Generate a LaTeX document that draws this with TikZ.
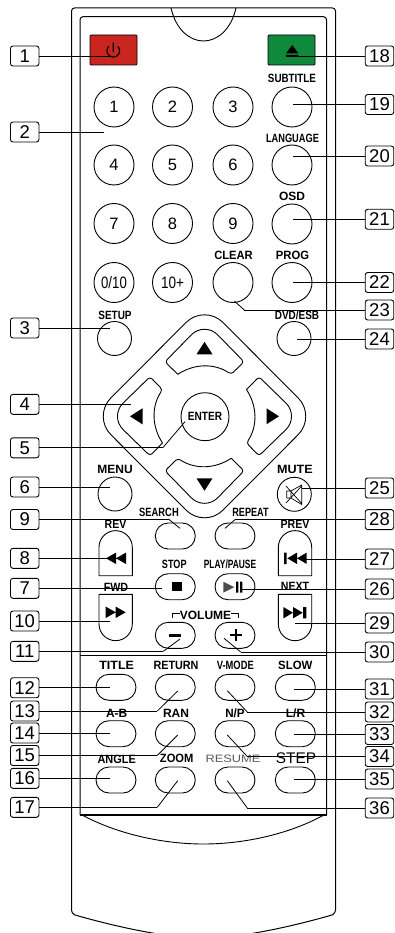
\documentclass[tikz,border=0pt]{standalone}
\usepackage{fontspec}
\setmainfont{Liberation Sans}
\usetikzlibrary{shapes}
\newcommand{\squeezed}[2]{\scalebox{#1}[1]{#2}}

\begin{document}
\begin{tikzpicture}[x=1pt,y=-1pt,line width=0.9pt,line join=round,
                    every text node part/.style={align=center},
                    numbox/.style={draw,rectangle,rounded corners=2.5pt,minimum width=28.5pt,minimum height=20pt,inner sep=0pt,font=\fontsize{18.5}{18.5}\selectfont},
                    roundkey/.style={draw,circle,minimum size=40pt,inner sep=0pt,font=\fontsize{16.5}{16.5}\selectfont},
                    smallkey/.style={roundkey,minimum size=34pt},
                    ovalkey/.style={draw,rectangle,rounded corners=13pt,minimum width=40pt,minimum height=26pt,inner sep=0pt},
                    keytext/.style={inner sep=0pt,font=\fontsize{12}{12}\bfseries\selectfont},
                    leader/.style={line width=0.8pt},
                    glyph/.style={fill=black,draw=none}]
  \clip (0,0) rectangle (394,933);

  % body of the remote
  \draw[line width=1pt] (75,915) [rounded corners=3pt] -- (71.5,913) -- (71.5,8) -- (335.5,8) -- (335.5,913) [sharp corners] -- (332,915) .. controls (290,927) and (240,938) .. (203.5,938) .. controls (167,938) and (117,927) .. (75,915);
  \draw[line width=1pt,rounded corners=3pt] (80,815) -- (80,16.7) -- (326.5,16.7) -- (326.5,815);
  \draw[line width=1.3pt] (80,815) -- (326.5,815);
  \draw[line width=1pt] (80,655) -- (326.5,655);
  \draw (171,8) .. controls (176,30) and (190,41) .. (203.5,41) .. controls (217,41) and (231,30) .. (236,8);
  \draw (83,815.5) .. controls (120,835) and (165,844) .. (203.5,844) .. controls (242,844) and (287,835) .. (323,815.5);

  % top keys
  \node[draw,rectangle,rounded corners=1pt,fill={rgb,255:red,200;green,38;blue,30},minimum width=47pt,minimum height=30pt] (power) at (113.5,50) {};
  \node[draw,rectangle,rounded corners=1pt,fill={rgb,255:red,15;green,138;blue,60},minimum width=47pt,minimum height=30pt] (eject) at (291.5,50) {};
  \draw[line width=1.2pt] (117.75,46.25) arc (-45:225:6.3) (113.3,42.7) -- (113.3,52);
  \fill[glyph] (286,53.3) -- (292.3,45) -- (298.3,53.3) -- cycle (286,55) rectangle (298.3,56.7);

  % digit keys
  \node[roundkey] (k1) at (114,107) {1};
  \node[roundkey] (k2) at (172.5,107) {2};
  \node[roundkey] (k3) at (233,107) {3};
  \node[roundkey] (k4) at (114,165) {4};
  \node[roundkey] (k5) at (172.5,165) {5};
  \node[roundkey] (k6) at (233,165) {6};
  \node[roundkey] (k7) at (114,223.5) {7};
  \node[roundkey] (k8) at (172.5,223.5) {8};
  \node[roundkey] (k9) at (233,223.5) {9};
  \node[roundkey] (k0) at (114,282.5) {\squeezed{.8}{0/10}};
  \node[roundkey] (k10) at (172.5,282.5) {\squeezed{.82}{10+}};
  \node[roundkey] (clear) at (233,282.5) {};
  \node[roundkey] (subtitle) at (292,107) {};
  \node[roundkey] (language) at (292,165) {};
  \node[roundkey] (osd) at (292,224) {};
  \node[roundkey] (prog) at (292,282.5) {};
  \node[smallkey] (setup) at (114.5,338.5) {};
  \node[smallkey] (dvd) at (294,338.5) {};
  \node[smallkey] (menu) at (115,494) {};
  \node[smallkey] (mute) at (294.3,494.3) {};

  % arrow pad
  \draw[rounded corners=26pt] (204.5,304) -- (316.5,416.3) -- (204.5,528.6) -- (92.5,416.3) -- cycle;
  \foreach \padangle in {0,90,180,270} {
    \begin{scope}[shift={(204.5,416.3)},rotate=\padangle]
      \draw (-26.7,-42) [rounded corners=3pt] -- (-39.5,-54.5) [rounded corners=19pt] -- (0,-95) [rounded corners=3pt] -- (39.5,-54.5) -- (26.7,-42) [sharp corners] .. controls (10,-53) and (-10,-53) .. (-26.7,-42) -- cycle;
      \fill[glyph] (0,-74.5) -- (8,-62) -- (-8,-62) -- cycle;
    \end{scope}
  }
  \node[draw,circle,fill=white,minimum size=48pt,inner sep=0pt,keytext] (enter) at (205,416.7) {\squeezed{.84}{ENTER}};

  % transport keys
  \node[ovalkey] (search) at (175.3,536) {};
  \node[ovalkey] (repeat) at (235,536) {};
  \node[ovalkey] (stop) at (175.3,586.7) {};
  \node[ovalkey] (play) at (235,586.7) {};
  \node[ovalkey] (minus) at (175.3,635.3) {};
  \node[ovalkey] (plus) at (235,635.3) {};
  \draw (99,575.7) -- (99,547.3) arc (180:360:16.65) -- (132.3,575.7) -- cycle;
  \draw (278.3,575.7) -- (278.3,547.3) arc (180:360:16.7) -- (311.7,575.7) -- cycle;
  \draw (99,594.3) -- (99,624) arc (180:0:16.65) -- (132.3,594.3) -- cycle;
  \draw (278.3,594.3) -- (278.3,624) arc (180:0:16.7) -- (311.7,594.3) -- cycle;
  \fill[glyph] (106,558.3) -- (116,552.6) -- (116,564) -- cycle (116,558.3) -- (126,552.6) -- (126,564) -- cycle;
  \fill[glyph] (284,552.6) rectangle (286.7,564) (287.3,558.3) -- (297,552.6) -- (297,564) -- cycle (297,558.3) -- (306.7,552.6) -- (306.7,564) -- cycle;
  \fill[glyph] (125.7,612.3) -- (115.7,606.6) -- (115.7,618) -- cycle (115.7,612.3) -- (105.7,606.6) -- (105.7,618) -- cycle;
  \fill[glyph] (302.7,612.7) -- (293,607) -- (293,618.4) -- cycle (293,612.7) -- (283.3,607) -- (283.3,618.4) -- cycle (303,607) rectangle (306.3,618.4);
  \fill[glyph] (172.3,581.7) rectangle (182.3,591);
  \fill[black!70] (223.3,581.7) -- (234.3,587.2) -- (223.3,592.7) -- cycle;
  \fill[glyph] (236,581.7) rectangle (238.3,592.7) (240,581.7) rectangle (242.3,592.7);
  \fill[glyph] (169.3,634) rectangle (181,637.3);
  \draw[line width=2pt] (230,635.3) -- (242,635.3) (236,629.3) -- (236,641.3);
  \draw[line width=0.7pt] (172.3,618.3) -- (172.3,613.3) -- (180,613.3) (231,613.3) -- (238.3,613.3) -- (238.3,618.3);
  \draw[line width=0.7pt] (286.7,491) -- (286.7,498) -- (291,498) -- (301.7,504.5) -- (301.7,485) -- (291,491) -- cycle (291,491) -- (291,498) (286,486) -- (301.7,503.5) (286,503) -- (301.7,486);

  % lower keys
  \node[ovalkey] (title) at (116,687.3) {};
  \node[ovalkey] (return) at (175.3,687.3) {};
  \node[ovalkey] (vmode) at (235,687.3) {};
  \node[ovalkey] (slow) at (295.3,687.3) {};
  \node[ovalkey] (ab) at (116,733.7) {};
  \node[ovalkey] (ran) at (175.3,733.7) {};
  \node[ovalkey] (np) at (235,733.7) {};
  \node[ovalkey] (lr) at (295.3,733.7) {};
  \node[ovalkey] (angle) at (116,780) {};
  \node[ovalkey] (zoom) at (175.3,780) {};
  \node[ovalkey] (resume) at (235,780) {};
  \node[ovalkey] (stepkey) at (295.3,780) {};

  % key texts
  \node[keytext] (subtitletext) at (292,78) {\squeezed{.82}{SUBTITLE}};
  \node[keytext] (languagetext) at (292.5,138) {\squeezed{.77}{LANGUAGE}};
  \node[keytext] (osdtext) at (292,196) {OSD};
  \node[keytext] (progtext) at (292.5,255) {\squeezed{.94}{PROG}};
  \node[keytext] (cleartext) at (233.5,255) {\squeezed{.93}{CLEAR}};
  \node[keytext] (setuptext) at (115,315) {\squeezed{.83}{SETUP}};
  \node[keytext] (dvdtext) at (297,315) {\squeezed{.83}{DVD/ESB}};
  \node[keytext] (menutext) at (115,469) {MENU};
  \node[keytext] (mutetext) at (295,469) {\squeezed{1.05}{MUTE}};
  \node[keytext] (searchtext) at (159,512.7) {\squeezed{.78}{SEARCH}};
  \node[keytext] (repeattext) at (250.5,512.7) {\squeezed{.76}{REPEAT}};
  \node[keytext] (revtext) at (115.5,524) {\squeezed{.88}{REV}};
  \node[keytext] (prevtext) at (295,524.3) {\squeezed{.88}{PREV}};
  \node[keytext] (stoptext) at (174.3,564.3) {\squeezed{.76}{STOP}};
  \node[keytext] (playtext) at (230,564.3) {\squeezed{.7}{PLAY/PAUSE}};
  \node[keytext] (fwdtext) at (116,587.7) {\squeezed{.89}{FWD}};
  \node[keytext] (nexttext) at (295,586.7) {\squeezed{.88}{NEXT}};
  \node[keytext] (volumetext) at (205.5,615) {VOLUME};
  \node[keytext] (titletext) at (116.7,665.3) {\squeezed{1.04}{TITLE}};
  \node[keytext] (returntext) at (176,665.3) {\squeezed{.9}{RETURN}};
  \node[keytext] (vmodetext) at (235.3,665.3) {\squeezed{.78}{V-MODE}};
  \node[keytext] (slowtext) at (295.3,665.3) {\squeezed{.95}{SLOW}};
  \node[keytext] (abtext) at (116.7,713.3) {A-B};
  \node[keytext] (rantext) at (176,713) {RAN};
  \node[keytext] (nptext) at (235,713) {\squeezed{.97}{N/P}};
  \node[keytext] (lrtext) at (295.5,713) {L/R};
  \node[keytext] (angletext) at (116.7,759) {\squeezed{.91}{ANGLE}};
  \node[keytext] (zoomtext) at (176.7,758.5) {\squeezed{.93}{ZOOM}};
  \node[keytext,font=\fontsize{10.7}{10.7}\selectfont,text=black!65] (resumetext) at (233,759) {\squeezed{1.2}{RESUME}};
  \node[keytext,font=\fontsize{15.4}{15.4}\selectfont] (steptext) at (296,758) {STEP};

  % callout numbers, left
  \node[numbox] (n1) at (24.7,56) {1};        \coordinate (t1) at (113,56);
  \node[numbox] (n2) at (24.7,132) {2};       \coordinate (t2) at (104,132);
  \node[numbox] (n3) at (24.7,328) {3};       \coordinate (t3) at (110,328);
  \node[numbox] (n4) at (24.7,404.3) {4};     \coordinate (t4) at (131,404.3);
  \node[numbox] (n5) at (24.7,447.8) {5};     \coordinate (b5) at (162.7,447.8);  \coordinate (t5) at (185,421.7);
  \node[numbox] (n6) at (24.7,487) {6};       \coordinate (t6) at (110,487);
  \node[numbox] (n9) at (24.7,519.5) {9};     \coordinate (b9) at (169,519.5);    \coordinate (t9) at (180,528.3);
  \node[numbox] (n8) at (24.7,558.3) {8};     \coordinate (t8) at (125,558.3);
  \node[numbox] (n7) at (24.7,588.3) {7};     \coordinate (t7) at (162.3,588.3);
  \node[numbox] (n10) at (24.7,621) {10};     \coordinate (t10) at (110,621);
  \node[numbox] (n11) at (24.7,651.3) {11};   \coordinate (b11) at (163.3,651.3); \coordinate (t11) at (180,639);
  \node[numbox] (n12) at (24.7,687.7) {12};   \coordinate (t12) at (110,687.7);
  \node[numbox] (n13) at (24.7,711) {13};     \coordinate (b13) at (157.3,711);   \coordinate (t13) at (177.7,691);
  \node[numbox] (n14) at (24.7,733) {14};     \coordinate (t14) at (110,733);
  \node[numbox] (n15) at (24.7,755.5) {15};   \coordinate (b15) at (157.3,755.5); \coordinate (t15) at (177.7,735);
  \node[numbox] (n16) at (24.7,778.3) {16};   \coordinate (t16) at (110,778.3);
  \node[numbox] (n17) at (24.7,807.3) {17};   \coordinate (b17) at (157.3,807.3); \coordinate (t17) at (177.7,780.7);

  % callout numbers, right
  \node[numbox] (n18) at (379.5,56) {18};     \coordinate (t18) at (286,56);
  \node[numbox] (n19) at (379.5,104.5) {19};  \coordinate (t19) at (293.3,104.5);
  \node[numbox] (n20) at (379.5,156) {20};    \coordinate (t20) at (293.3,156);
  \node[numbox] (n21) at (379.5,219.3) {21};  \coordinate (t21) at (293.3,219.3);
  \node[numbox] (n22) at (379.5,282.5) {22};  \coordinate (t22) at (293.3,282.5);
  \node[numbox] (n23) at (379.5,310) {23};    \coordinate (b23) at (244.3,310);   \coordinate (t23) at (234.3,301);
  \node[numbox] (n24) at (379.5,339) {24};    \coordinate (t24) at (296.7,339);
  \node[numbox] (n25) at (379.5,488) {25};    \coordinate (t25) at (301.7,488);
  \node[numbox] (n28) at (379.5,519.6) {28};  \coordinate (b28) at (235,519.6);   \coordinate (t28) at (225,528.3);
  \node[numbox] (n27) at (379.5,559) {27};    \coordinate (t27) at (300,559);
  \node[numbox] (n26) at (379.5,589) {26};    \coordinate (t26) at (240,589);
  \node[numbox] (n29) at (379.5,623) {29};    \coordinate (t29) at (295,623);
  \node[numbox] (n30) at (379.5,652) {30};    \coordinate (b30) at (240.7,652);   \coordinate (t30) at (224,638.3);
  \node[numbox] (n31) at (379.5,689) {31};    \coordinate (t31) at (294.3,689);
  \node[numbox] (n32) at (379.5,712) {32};    \coordinate (b32) at (247.3,712);   \coordinate (t32) at (227.3,690.7);
  \node[numbox] (n33) at (379.5,734.5) {33};  \coordinate (t33) at (294.3,734.5);
  \node[numbox] (n34) at (379.5,756.5) {34};  \coordinate (b34) at (247.3,756.5); \coordinate (t34) at (227.3,735);
  \node[numbox] (n35) at (379.5,779) {35};    \coordinate (t35) at (294.3,779);
  \node[numbox] (n36) at (379.5,808) {36};    \coordinate (b36) at (247.3,808);   \coordinate (t36) at (227.3,780.7);

  \path[leader] (n1) edge (t1)
        (n2) edge (t2)
        (n3) edge (t3)
        (n4) edge (t4)
        (n5) edge (b5) (b5) edge (t5)
        (n6) edge (t6)
        (n9) edge (b9) (b9) edge (t9)
        (n8) edge (t8)
        (n7) edge (t7)
        (n10) edge (t10)
        (n11) edge (b11) (b11) edge (t11)
        (n12) edge (t12)
        (n13) edge (b13) (b13) edge (t13)
        (n14) edge (t14)
        (n15) edge (b15) (b15) edge (t15)
        (n16) edge (t16)
        (n17) edge (b17) (b17) edge (t17)
        (n18) edge (t18)
        (n19) edge (t19)
        (n20) edge (t20)
        (n21) edge (t21)
        (n22) edge (t22)
        (n23) edge (b23) (b23) edge (t23)
        (n24) edge (t24)
        (n25) edge (t25)
        (n28) edge (b28) (b28) edge (t28)
        (n27) edge (t27)
        (n26) edge (t26)
        (n29) edge (t29)
        (n30) edge (b30) (b30) edge (t30)
        (n31) edge (t31)
        (n32) edge (b32) (b32) edge (t32)
        (n33) edge (t33)
        (n34) edge (b34) (b34) edge (t34)
        (n35) edge (t35)
        (n36) edge (b36) (b36) edge (t36);
\end{tikzpicture}
\end{document}
